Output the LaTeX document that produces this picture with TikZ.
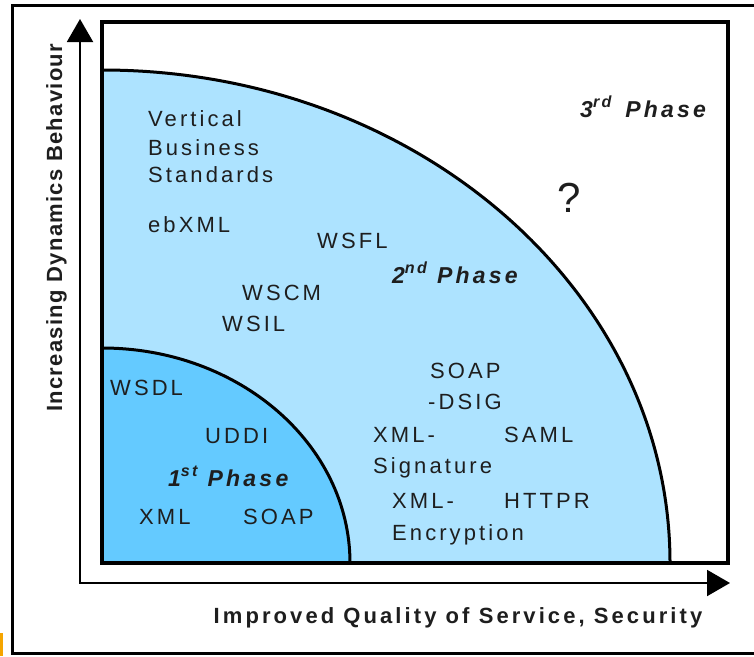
\documentclass[tikz,border=0pt]{standalone}
\usepackage{fontspec}
\setmainfont{Liberation Sans}
\newfontfamily\diafont[LetterSpace=14]{Liberation Sans}
\newfontfamily\axfont[LetterSpace=6]{Liberation Sans}
\usetikzlibrary{%
  arrows.meta,% Triangle tips
  positioning%
}
\definecolor{ltblue}{RGB}{173,227,255}
\definecolor{dkblue}{RGB}{100,202,255}
\definecolor{txt}{RGB}{30,30,30}
\definecolor{tab}{RGB}{245,165,0}

\begin{document}
\begin{tikzpicture}[x=1pt,y=-1pt,
    lbl/.style={anchor=base west,inner sep=0,text=txt,font=\diafont\fontsize{22}{28}\selectfont},
    phase/.style={lbl,font=\diafont\fontsize{23}{28}\selectfont\bfseries\itshape},
    axlbl/.style={inner sep=0,text=txt,font=\diafont\fontsize{22}{28}\selectfont\bfseries},
    axis/.style={line width=2pt,{Triangle[length=23pt,width=26pt]}-{Triangle[length=23pt,width=26pt]}},
    arcline/.style={line width=3pt}]
    \useasboundingbox (0,0) rectangle (754,656);
    \fill[tab] (0,633) rectangle (3,656);
    \begin{scope}
      \clip (0,0) rectangle (754,656);
      \draw[line width=3pt] (12,5) rectangle (770,653);
    \end{scope}

    %quadrants
    \coordinate (o) at (102,563);
    \fill[ltblue] (o) -- (670,563) arc[start angle=0,end angle=-90,x radius=568,y radius=493] -- cycle;
    \draw[arcline] (670,563) arc[start angle=0,end angle=-90,x radius=568,y radius=493];
    \fill[dkblue] (o) -- (350,563) arc[start angle=0,end angle=-90,x radius=248,y radius=215] -- cycle;
    \draw[arcline] (350,563) arc[start angle=0,end angle=-90,x radius=248,y radius=215];
    \draw[line width=4pt] (102,22) rectangle (728,563);

    %axes
    \coordinate (ytip) at (80,19);
    \coordinate (corner) at (80,583);
    \coordinate (xtip) at (730,583);
    \draw[axis] (ytip) -- (corner) -- (xtip);
    \node[axlbl,anchor=base] (xlbl) at (458,623) {Improved Quality of Service, Security};
    \node[axlbl,font=\axfont\fontsize{22}{28}\selectfont\bfseries,rotate=90,anchor=base west] (ylbl) at (62,412) {Increasing Dynamics Behaviour};

    %3rd phase
    \node[phase] (phase3) at (580,117) {3\textsuperscript{rd}\, Phase};
    \node[lbl,font=\fontsize{42}{42}\selectfont] (qmark) at (557,212) {?};

    %2nd phase
    \node[lbl] (vert) at (148,126) {Vertical};
    \node[lbl] (busi) at (148,155) {Business};
    \node[lbl] (stnd) at (148,182) {Standards};
    \node[lbl] (ebxml) at (148,232) {ebXML};
    \node[lbl] (wsfl) at (317,248) {WSFL};
    \node[phase] (phase2) at (392,283) {2\textsuperscript{nd} Phase};
    \node[lbl] (wscm) at (242,300) {WSCM};
    \node[lbl] (wsil) at (222,331) {WSIL};
    \node[lbl] (soapdsig) at (430,378) {SOAP};
    \node[lbl] (dsig) at (428,409) {-DSIG};
    \node[lbl] (xmlsig) at (373,442) {XML-};
    \node[lbl] (sig) at (373,473) {Signature};
    \node[lbl] (saml) at (504,442) {SAML};
    \node[lbl] (xmlenc) at (392,508) {XML-};
    \node[lbl] (enc) at (392,540) {Encryption};
    \node[lbl] (httpr) at (504,508) {HTTPR};

    %1st phase
    \node[lbl] (wsdl) at (110,395) {WSDL};
    \node[lbl] (uddi) at (205,443) {UDDI};
    \node[phase] (phase1) at (168,486) {1\textsuperscript{st} Phase};
    \node[lbl] (xml) at (139,524) {XML};
    \node[lbl] (soap) at (243,524) {SOAP};
\end{tikzpicture}
\end{document}
